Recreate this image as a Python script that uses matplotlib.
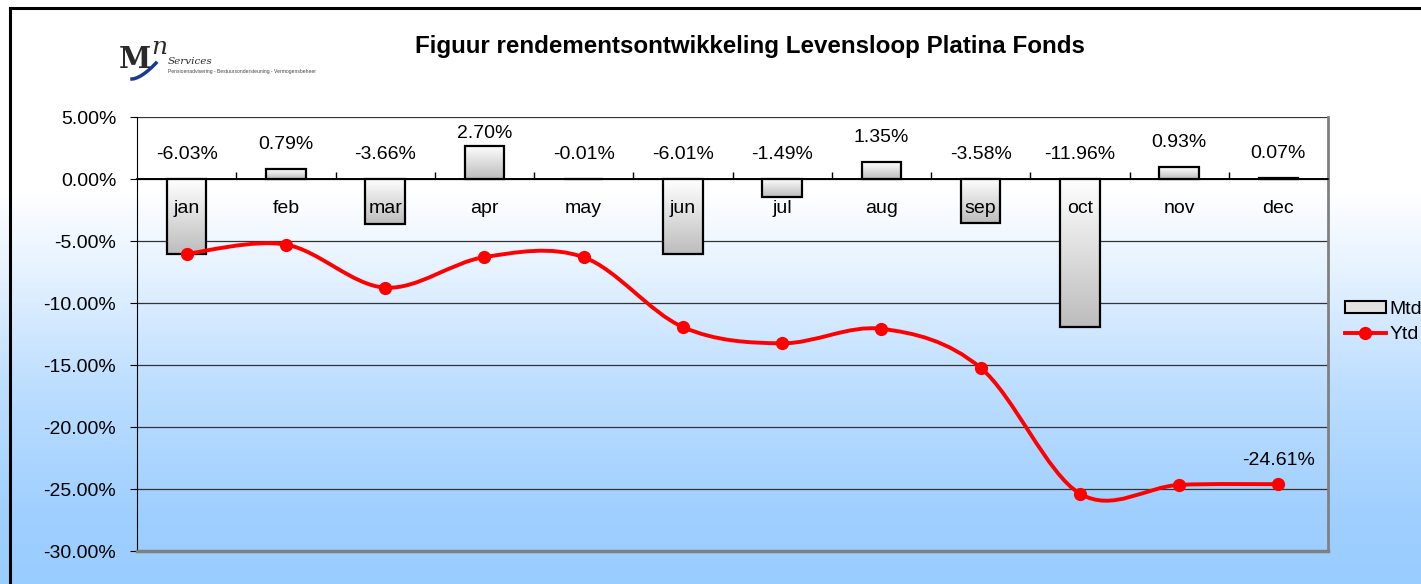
import matplotlib
matplotlib.use("Agg")
import matplotlib.pyplot as plt
import numpy as np
from matplotlib.path import Path
from matplotlib.patches import PathPatch, Rectangle
from matplotlib.lines import Line2D

plt.rcParams['font.family'] = ['Liberation Sans', 'DejaVu Sans']

months = ["jan", "feb", "mar", "apr", "may", "jun", "jul", "aug", "sep", "oct", "nov", "dec"]
mtd = [-6.03, 0.79, -3.66, 2.70, -0.01, -6.01, -1.49, 1.35, -3.58, -11.96, 0.93, 0.07]
ytd = [-6.03, -5.29, -8.76, -6.30, -6.31, -11.94, -13.25, -12.08, -15.23, -25.37, -24.67, -24.61]
yticks = [5, 0, -5, -10, -15, -20, -25, -30]

W, H = 1421, 584
fig = plt.figure(figsize=(W / 100, H / 100), dpi=100)
FS = 14

def fx(x):
    return x / W

def fy(y):
    return 1 - y / H

# background gradient (white at the top, light blue at the bottom)
bg = fig.add_axes([0, 0, 1, 1], zorder=-10)
rows = np.arange(H)
f = np.interp(rows, [0, 190, 270, 390, 510, 584], [0, 0, 0.25, 0.66, 0.93, 1.0])
top = np.array([1.0, 1.0, 1.0])
bot = np.array([153, 204, 255]) / 255
grad = (1 - f)[:, None] * top + f[:, None] * bot
bg.imshow(grad[:, None, :], aspect='auto', extent=[0, 1, 0, 1])
bg.set_axis_off()

# outer frame (left + top)
fig.add_artist(Line2D([fx(10), fx(10)], [0, fy(8)], color='black', lw=2.2))
fig.add_artist(Line2D([fx(10), 1], [fy(8), fy(8)], color='black', lw=2.2))

# logo
fig.add_artist(Rectangle((fx(28), fy(87)), fx(357) - fx(28), fy(33) - fy(87),
                         facecolor='white', edgecolor='none'))
fig.text(fx(119), fy(59), "M", fontsize=21, fontweight='bold', family='DejaVu Serif',
         color='#2a2a2a', va='center')
fig.text(fx(151), fy(47), "n", fontsize=18, style='italic', family='DejaVu Serif',
         color='#2a2a2a', va='center')
fig.text(fx(168), fy(61), "Services", fontsize=7.5, style='italic', family='DejaVu Serif',
         color='#2a2a2a', va='center')
fig.text(fx(168), fy(71), "Pensioenadvisering - Bestuursondersteuning - Vermogensbeheer",
         fontsize=3.6, color='#444444', va='center')
sw = np.linspace(0, 1, 30)
fig.add_artist(Line2D(fx(132 + 24 * sw), fy(79 - 16 * sw ** 1.6), color='#1c3a94', lw=2.5))

fig.text(fx(750), fy(46), "Figuur rendementsontwikkeling Levensloop Platina Fonds",
         ha='center', va='center', fontsize=17.4, fontweight='bold')

ax = fig.add_axes([fx(137), fy(551), fx(1328) - fx(137), fy(117) - fy(551)])
ax.patch.set_alpha(0)
x = np.arange(len(months))

for v in yticks:
    ax.axhline(v, color='#333333', lw=0.9, zorder=1)
ax.axhline(0, color='black', lw=1.2, zorder=4)

# bars with vertical gradient
bars = ax.bar(x, mtd, width=0.4, facecolor='none', edgecolor='black', lw=1.6, zorder=3)
gcol = np.linspace(1.0, 0.74, 64)
gimg = np.repeat(gcol[:, None, None], 3, axis=2)
for b in bars:
    x0, y0 = b.get_x(), b.get_y()
    w, h = b.get_width(), b.get_height()
    lo, hi = min(y0, y0 + h), max(y0, y0 + h)
    im = ax.imshow(gimg, aspect='auto', extent=[x0, x0 + w, lo, hi], zorder=2)
    im.set_clip_path(b)
ax.set_xlim(-0.5, 11.5)
ax.set_ylim(-30, 5)

for i, v in enumerate(mtd):
    ypos = min(max(v, 0) + 2.0, 3.7)
    ax.text(i, ypos, f"{v:.2f}%", ha='center', va='center', fontsize=FS, zorder=6)

# category labels just below the zero line, over the bars
for i, m in enumerate(months):
    ax.annotate(m, (i, 0), xytext=(0, -21.5), textcoords='offset points',
                ha='center', va='center', fontsize=FS, zorder=10)

# smooth Ytd line (Bezier through points)
pts = np.column_stack([x, ytd]).astype(float)
ext = np.vstack([pts[0], pts, pts[-1]])
verts = [tuple(pts[0])]
codes = [Path.MOVETO]
for i in range(len(pts) - 1):
    p0, p1, p2, p3 = ext[i], ext[i + 1], ext[i + 2], ext[i + 3]
    c1 = p1 + (p2 - p0) / 6
    c2 = p2 - (p3 - p1) / 6
    verts += [tuple(c1), tuple(c2), tuple(p2)]
    codes += [Path.CURVE4] * 3
ax.add_patch(PathPatch(Path(verts, codes), facecolor='none', edgecolor='#ff0000',
                       lw=2.8, zorder=7, capstyle='round'))
ax.plot(x, ytd, 'o', color='#ff0000', ms=8.5, zorder=8)
ax.annotate(f"{ytd[-1]:.2f}%", (x[-1], ytd[-1]), xytext=(0, 17), textcoords='offset points',
            ha='center', va='center', fontsize=FS)

# axes styling
ax.spines['top'].set_visible(False)
ax.spines['bottom'].set_position(('data', 0))
ax.spines['bottom'].set_linewidth(1.2)
ax.spines['right'].set_color('#808080')
ax.spines['right'].set_linewidth(2)
ax.spines['left'].set_color('black')
ax.plot([0, 1], [0, 0], transform=ax.transAxes, color='#808080', lw=2.5, clip_on=False, zorder=5)
ax.set_xticks(np.arange(0.5, 11.5, 1))
ax.set_xticklabels([])
ax.tick_params(axis='x', direction='in', length=5, width=1)
ax.set_yticks(yticks)
ax.set_yticklabels([f"{v:.2f}%" for v in yticks])
ax.tick_params(axis='y', direction='out', length=5, pad=10, labelsize=FS)

handles = [Rectangle((0, 0), 1, 1, facecolor='#e2e2e2', edgecolor='black', lw=1.5),
           Line2D([], [], color='#ff0000', lw=2.8, marker='o', ms=8.5)]
fig.legend(handles, ["Mtd", "Ytd"], loc='center left', bbox_to_anchor=(fx(1335), fy(322)),
           frameon=False, fontsize=FS, handlelength=2.1, handleheight=0.6,
           handletextpad=0.2, labelspacing=0.45, borderpad=0)

fig.savefig("out.png", dpi=100)
